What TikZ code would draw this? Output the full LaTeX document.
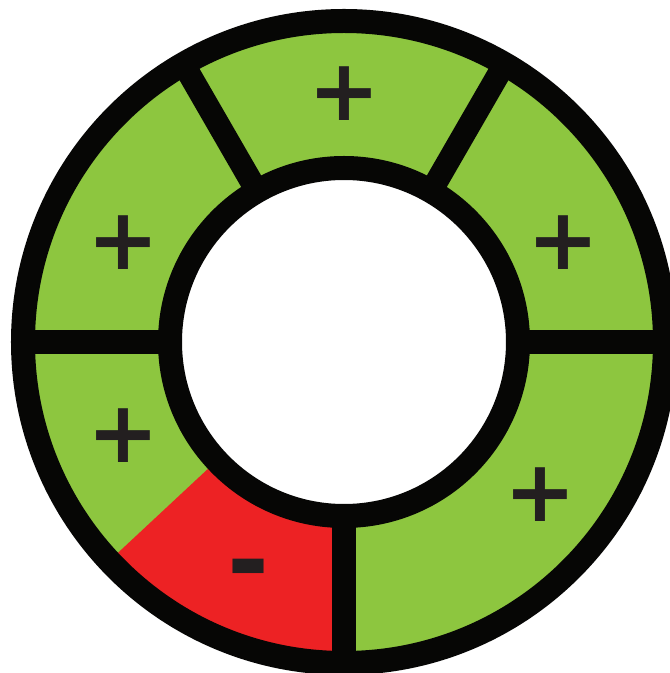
\documentclass[tikz,border=0pt]{standalone}
\usepackage{fontspec}
\usepackage{xcolor}
\usepackage{tikz}
\newfontfamily\signfont{DejaVu Sans}
\definecolor{ringgreen}{HTML}{8DC63F}
\definecolor{ringred}{HTML}{ED2224}
\definecolor{ringblack}{HTML}{060605}
\definecolor{signgray}{HTML}{231F20}

\begin{document}
\begin{tikzpicture}[scale=0.025,
  rim/.style={line width=0.6cm, ringblack},
  spoke/.style={line width=0.575cm, ringblack},
  sign/.style={inner sep=0pt, text=signgray, font=\signfont\bfseries\fontsize{61}{61}\selectfont}]
  \useasboundingbox (-344,-331) rectangle (325,342);
  % ---------- Sectores ----------
  \fill[ringgreen, even odd rule] (0,0) circle (321) (0,0) circle (174);
  \fill[ringred] (223:174) arc[start angle=223, end angle=270, radius=174]
    -- (270:321) arc[start angle=270, end angle=223, radius=321] -- cycle;
  % ---------- Aros ----------
  \draw[rim] (0,0) circle (174);
  \draw[rim] (0,0) circle (321);
  \foreach \a in {0,60,120,180,270}
    \draw[spoke] (\a:174) -- (\a:321);
  % ---------- Sinais ----------
  \node[sign] (top) at (0,248) {+};
  \node[sign] (upleft) at (-221,99) {+};
  \node[sign] (upright) at (219,99) {+};
  \node[sign] (lowleft) at (-221,-94) {+};
  \node[sign] (lowright) at (196,-153) {+};
  \node[sign, font=\signfont\bfseries\fontsize{72}{72}\selectfont] (minus) at (-95,-235) {-};
\end{tikzpicture}
\end{document}
